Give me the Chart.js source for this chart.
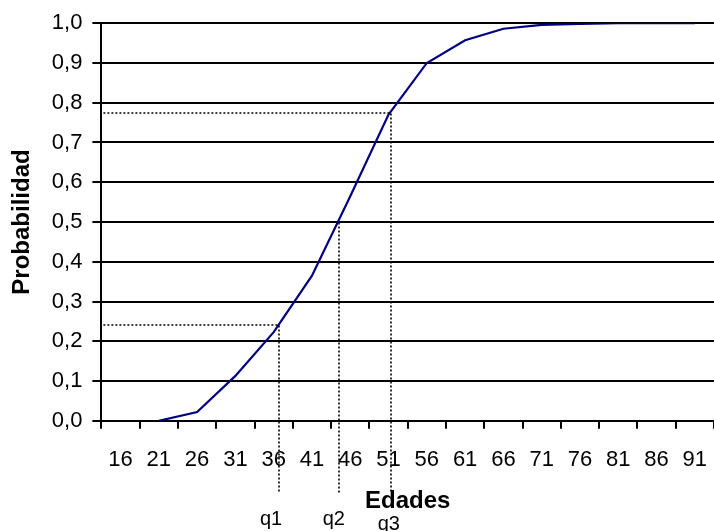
<!DOCTYPE html>
<html>
<head>
<meta charset="utf-8">
<title>Probabilidad acumulada por edades</title>
<script src="https://cdn.jsdelivr.net/npm/chart.js@4.4.1/dist/chart.umd.min.js"></script>
<style>
    html, body { margin: 0; padding: 0; background: #fff; }
    canvas { display: block; }
</style>
</head>
<body>
<canvas id="cdfChart" width="714" height="531"></canvas>
<script>
// --- Data ---
const ages = ['16', '21', '26', '31', '36', '41', '46', '51', '56', '61', '66', '71', '76', '81', '86', '91'];
const probs = [null, 0.0, 0.022, 0.113, 0.223, 0.365, 0.565, 0.77, 0.90, 0.957, 0.986, 0.996, 0.998, 1.0, 1.0, 1.0];
const yTickValues = [0, 0.1, 0.2, 0.3, 0.4, 0.5, 0.6, 0.7, 0.8, 0.9, 1.0];

// quartiles
const qNames = ['q1', 'q2', 'q3'];
const qAges = [36.7, 44.5, 51.3];
const qProbs = [0.24, 0.50, 0.775];

const FONT = '"Liberation Sans", Arial, sans-serif';

// --- Dotted quartile guides + labels ---
const quartileGuides = {
    id: 'quartileGuides',
    afterDatasetsDraw(chart, args, opts) {
        const { ctx, chartArea, scales: { x, y } } = chart;
        const first = Number(ages[0]);
        const step = Number(ages[1]) - first;

        ctx.save();
        ctx.strokeStyle = '#000';
        ctx.lineWidth = 1.6;
        ctx.setLineDash([2, 2]);
        qAges.forEach((age, i) => {
            const px = Math.round(x.getPixelForValue((age - first) / step));
            const py = Math.round(y.getPixelForValue(qProbs[i]));
            ctx.beginPath();
            ctx.moveTo(chartArea.left + 2, py);
            ctx.lineTo(px, py);
            ctx.lineTo(px, chartArea.bottom + opts.drop);
            ctx.stroke();
        });

        ctx.setLineDash([]);
        ctx.fillStyle = '#000';
        ctx.font = '20px ' + FONT;
        ctx.textAlign = 'center';
        ctx.textBaseline = 'alphabetic';
        qNames.forEach((name, i) => {
            const px = x.getPixelForValue((qAges[i] - first) / step);
            ctx.fillText(name, px + opts.dx[i], chartArea.bottom + opts.baseline + opts.dy[i]);
        });
        ctx.restore();
    }
};

new Chart(document.getElementById('cdfChart'), {
    type: 'line',
    data: {
        labels: ages,
        datasets: [{
            data: probs,
            borderColor: '#000080',
            borderWidth: 2.2,
            pointRadius: 0,
            fill: false,
            tension: 0,
            spanGaps: false
        }]
    },
    options: {
        responsive: false,
        animation: false,
        events: [],
        layout: { padding: { top: 21, right: 0, bottom: 0, left: 0 } },
        plugins: {
            legend: { display: false },
            tooltip: { enabled: false },
            quartileGuides: {
                drop: 72,
                baseline: 104,
                dx: [-8, -5, -2],
                dy: [0, 0, 5]
            }
        },
        scales: {
            x: {
                type: 'category',
                offset: true,
                grid: {
                    display: true,
                    drawOnChartArea: false,
                    drawTicks: true,
                    tickLength: 8,
                    color: '#000',
                    lineWidth: 2,
                    offset: true
                },
                border: { display: true, color: '#000', width: 2 },
                ticks: {
                    color: '#000',
                    font: { family: FONT, size: 22 },
                    padding: 18,
                    maxRotation: 0,
                    autoSkip: false
                },
                title: {
                    display: true,
                    text: 'Edades',
                    color: '#000',
                    font: { family: FONT, size: 24, weight: 'bold' },
                    padding: { top: 14, bottom: 15 }
                },
                afterFit(scale) {
                    // Chart.js reserves the tick padding twice; keep it once,
                    // and let the plot run to the right edge like the original
                    scale.height -= scale.options.ticks.padding;
                    scale.paddingRight = 0;
                }
            },
            y: {
                min: 0,
                max: 1,
                afterBuildTicks(scale) {
                    scale.ticks = yTickValues.map(v => ({ value: v }));
                },
                grid: {
                    color: '#000',
                    lineWidth: 2,
                    drawTicks: true,
                    tickLength: 9
                },
                border: { display: true, color: '#000', width: 2 },
                ticks: {
                    color: '#000',
                    font: { family: FONT, size: 22 },
                    padding: 10,
                    callback: v => v.toFixed(1).replace('.', ',')
                },
                title: {
                    display: true,
                    text: 'Probabilidad',
                    color: '#000',
                    font: { family: FONT, size: 24, weight: 'bold' },
                    padding: { top: 8, bottom: 15 }
                },
                afterFit(scale) {
                    scale.width -= scale.options.ticks.padding;
                }
            }
        }
    },
    plugins: [quartileGuides]
});
</script>
</body>
</html>
